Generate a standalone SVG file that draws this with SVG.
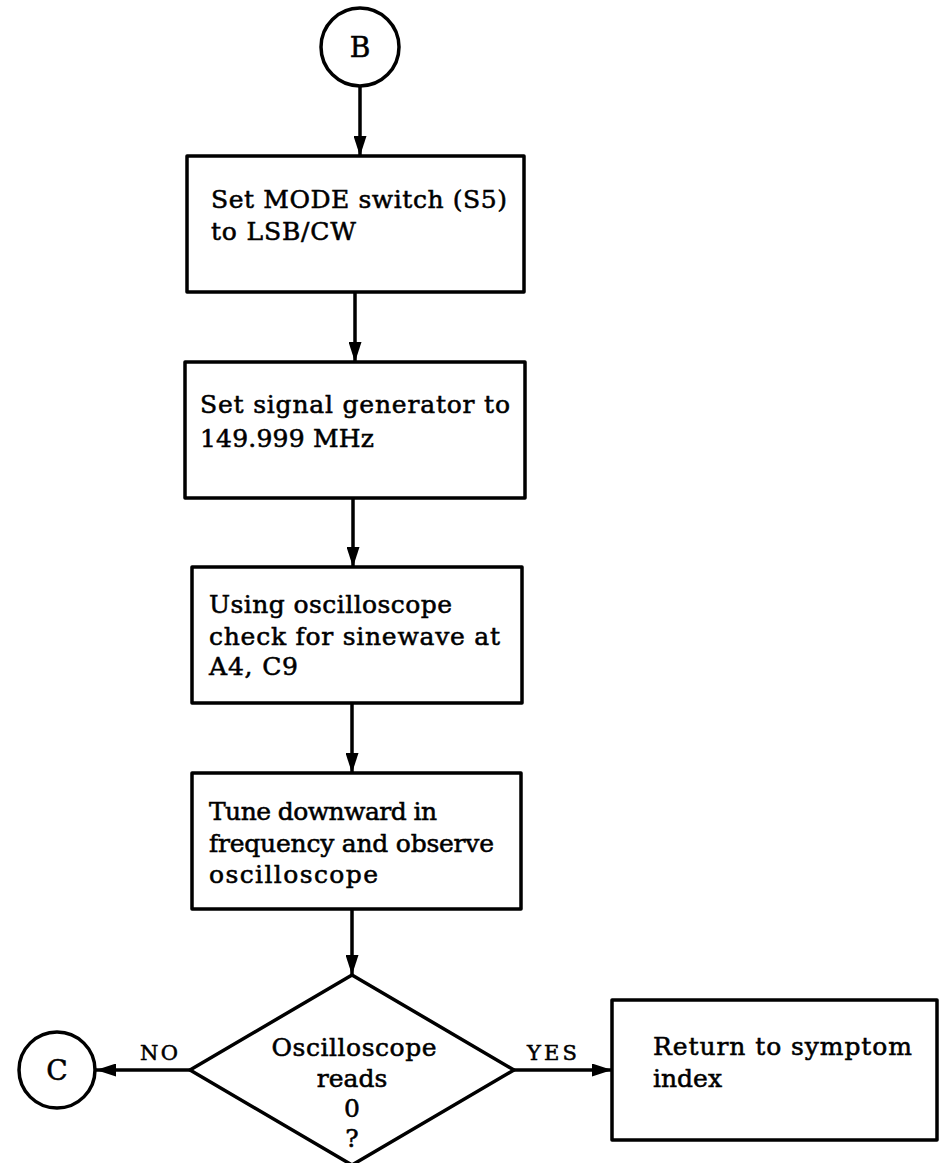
<svg xmlns="http://www.w3.org/2000/svg" width="940" height="1163" viewBox="0 0 940 1163">
<style>
.shape{fill:#fff;stroke:#000;stroke-width:3.5;stroke-linejoin:round}
.conn{fill:none;stroke:#000;stroke-width:3.5}
.t{font-family:"DejaVu Serif","Liberation Serif",serif;font-size:25px;fill:#000;stroke:#000;stroke-width:0.55}
.c{text-anchor:middle}
.lbl{font-family:"DejaVu Serif","Liberation Serif",serif;font-size:21px;fill:#000;stroke:#000;stroke-width:0.55}
</style>
<defs>
<marker id="arr" viewBox="0 0 20 13" refX="20" refY="6.5" markerWidth="20" markerHeight="13" markerUnits="userSpaceOnUse" orient="auto">
<path d="M0,0 L20,6.5 L0,13 Z" fill="#000"/>
</marker>
</defs>
<rect width="940" height="1163" fill="#fff"/>
<g id="connectors">
<line class="conn" x1="360" y1="86" x2="360" y2="156" marker-end="url(#arr)"/>
<line class="conn" x1="355" y1="292" x2="355" y2="362" marker-end="url(#arr)"/>
<line class="conn" x1="353" y1="498" x2="353" y2="567" marker-end="url(#arr)"/>
<line class="conn" x1="352" y1="703" x2="352" y2="773" marker-end="url(#arr)"/>
<line class="conn" x1="352" y1="909" x2="352" y2="975" marker-end="url(#arr)"/>
<line class="conn" x1="190" y1="1070" x2="96" y2="1070" marker-end="url(#arr)"/>
<line class="conn" x1="514" y1="1070" x2="612" y2="1070" marker-end="url(#arr)"/>
<text class="lbl" x="140" y="1060" textLength="38">NO</text>
<text class="lbl" x="527" y="1060" textLength="50">YES</text>
</g>
<g id="B">
<circle class="shape" cx="360" cy="47" r="39"/>
<text class="t c" x="360" y="57" style="font-size:28px">B</text>
</g>
<g id="box1">
<rect class="shape" x="187" y="156" width="337" height="136"/>
<text class="t" x="211" y="208" textLength="296">Set MODE switch (S5)</text>
<text class="t" x="211" y="240" textLength="145">to LSB/CW</text>
</g>
<g id="box2">
<rect class="shape" x="185" y="362" width="340" height="136"/>
<text class="t" x="200" y="413" textLength="310">Set signal generator to</text>
<text class="t" x="200" y="447" textLength="174">149.999 MHz</text>
</g>
<g id="box3">
<rect class="shape" x="192" y="567" width="330" height="136"/>
<text class="t" x="209" y="613" textLength="243">Using oscilloscope</text>
<text class="t" x="209" y="645" textLength="291">check for sinewave at</text>
<text class="t" x="209" y="675" textLength="89">A4, C9</text>
</g>
<g id="box4">
<rect class="shape" x="192" y="773" width="329" height="136"/>
<text class="t" x="209" y="820" textLength="228">Tune downward in</text>
<text class="t" x="209" y="852" textLength="285">frequency and observe</text>
<text class="t" x="209" y="883" textLength="169">oscilloscope</text>
</g>
<g id="decision">
<polygon class="shape" points="352,975 514,1070 352,1165 190,1070"/>
<text class="t c" x="354" y="1056" textLength="165">Oscilloscope</text>
<text class="t c" x="352" y="1087">reads</text>
<text class="t c" x="352" y="1117">0</text>
<text class="t c" x="352" y="1147">?</text>
</g>
<g id="C">
<circle class="shape" cx="57" cy="1070" r="38"/>
<text class="t c" x="57" y="1080" style="font-size:28px">C</text>
</g>
<g id="box5">
<rect class="shape" x="612" y="1000" width="325" height="140"/>
<text class="t" x="653" y="1055" textLength="259">Return to symptom</text>
<text class="t" x="653" y="1087" textLength="69">index</text>
</g>
</svg>
